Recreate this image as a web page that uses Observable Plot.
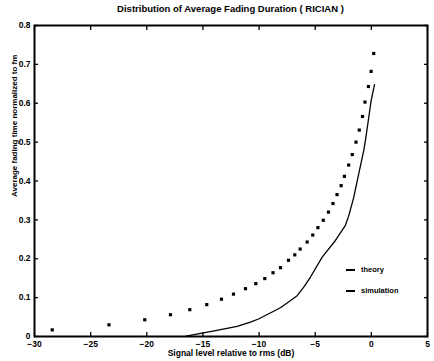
<!DOCTYPE html>
<html><head><meta charset="utf-8">
<script src="https://cdn.jsdelivr.net/npm/d3@7"></script>
<script src="https://cdn.jsdelivr.net/npm/@observablehq/plot@0.6"></script>
<style>
body{margin:0;background:#fff;}
#wrap{position:relative;width:434px;height:361px;font-family:"Liberation Sans",Arial,sans-serif;}
#title{position:absolute;top:3px;left:34px;width:393px;text-align:center;font-size:9.5px;font-weight:bold;}
#legend{position:absolute;left:346px;top:259px;font-size:7.5px;font-weight:bold;line-height:21px;}
#legend .sw{display:inline-block;width:9px;height:0;border-top:2px solid #000;vertical-align:middle;margin-right:6px;}
</style></head>
<body><div id="wrap"><div id="title">Distribution of Average Fading Duration ( RICIAN )</div>
<div id="legend"><div><span class="sw"></span>theory</div><div><span class="sw"></span>simulation</div></div></div>
<script>
const simX = [-28.42,-23.37,-20.18,-17.89,-16.17,-14.66,-13.35,-12.28,-11.21,-10.29,-9.49,-8.76,-8.09,-7.38,-6.82,-6.34,-5.72,-5.22,-4.76,-4.28,-3.82,-3.42,-3.06,-2.69,-2.40,-2.02,-1.70,-1.37,-1.08,-0.79,-0.57,-0.26,-0.02,0.21];
const simY = [0.017,0.030,0.043,0.056,0.069,0.082,0.096,0.109,0.123,0.136,0.149,0.164,0.177,0.196,0.210,0.225,0.243,0.261,0.280,0.299,0.320,0.342,0.365,0.388,0.412,0.441,0.468,0.500,0.531,0.566,0.603,0.643,0.682,0.728];
const thX = [-16.5,-13.88,-11.95,-10.77,-10.05,-8.83,-8.10,-7.47,-6.61,-6.02,-5.42,-4.38,-3.20,-2.31,-2.01,-1.57,-1.12,-0.68,-0.53,-0.23,-0.02,0.28];
const thY = [0.001,0.015,0.026,0.037,0.045,0.063,0.074,0.087,0.105,0.127,0.153,0.204,0.247,0.286,0.311,0.358,0.419,0.478,0.504,0.564,0.607,0.648];
const xTicks = [-30,-25,-20,-15,-10,-5,0,5];
const yTicks = [0,0.1,0.2,0.3,0.4,0.5,0.6,0.7,0.8];
const xLabel = "Signal level relative to rms (dB)";
const yLabel = "Average fading time normalized to fm";

const sim = simX.map((x,i)=>({x, y: simY[i]}));
const th = thX.map((x,i)=>({x, y: thY[i]}));

const chart = Plot.plot({
  width: 434, height: 361,
  marginLeft: 34, marginRight: 7, marginTop: 25, marginBottom: 25,
  style: {fontFamily: '"Liberation Sans", Arial, sans-serif', fontWeight: "bold", fontSize: "8.5px", background: "#fff"},
  x: {domain: [-30, 5], ticks: xTicks, label: null},
  y: {domain: [0, 0.8], ticks: yTicks, label: null},
  marks: [
    Plot.frame({stroke: "#000", strokeWidth: 2}),
    Plot.axisX(xTicks, {anchor: "bottom", tickSize: -4, text: null, label: null, strokeWidth: 1.3}),
    Plot.axisX(xTicks, {anchor: "top", tickSize: -4, text: null, label: null, strokeWidth: 1.3}),
    Plot.axisX(xTicks, {anchor: "bottom", tickSize: 0, tickPadding: 4, label: null, fill: "#000"}),
    Plot.axisY(yTicks, {anchor: "left", tickSize: -4, text: null, label: null, strokeWidth: 1.3}),
    Plot.axisY(yTicks, {anchor: "right", tickSize: -4, text: null, label: null, strokeWidth: 1.3}),
    Plot.axisY(yTicks, {anchor: "left", tickSize: 0, tickPadding: 4, label: null, fill: "#000", tickFormat: d => d === 0 ? "0" : String(d)}),
    Plot.text([xLabel], {frameAnchor: "bottom", dy: 19, text: d => d, fontSize: 8.5, fontWeight: "bold"}),
    Plot.text([yLabel], {frameAnchor: "left", dx: -20, dy: 16, rotate: -90, text: d => d, fontSize: 8, fontWeight: "bold"}),
    Plot.line(th, {x: "x", y: "y", stroke: "#000", strokeWidth: 1.3}),
    Plot.dot(sim, {x: "x", y: "y", symbol: "square", r: 1.8, fill: "#000"})
  ]
});
document.getElementById("wrap").prepend(chart);
chart.style.position = "absolute"; chart.style.left = "0"; chart.style.top = "0";
</script></body></html>
